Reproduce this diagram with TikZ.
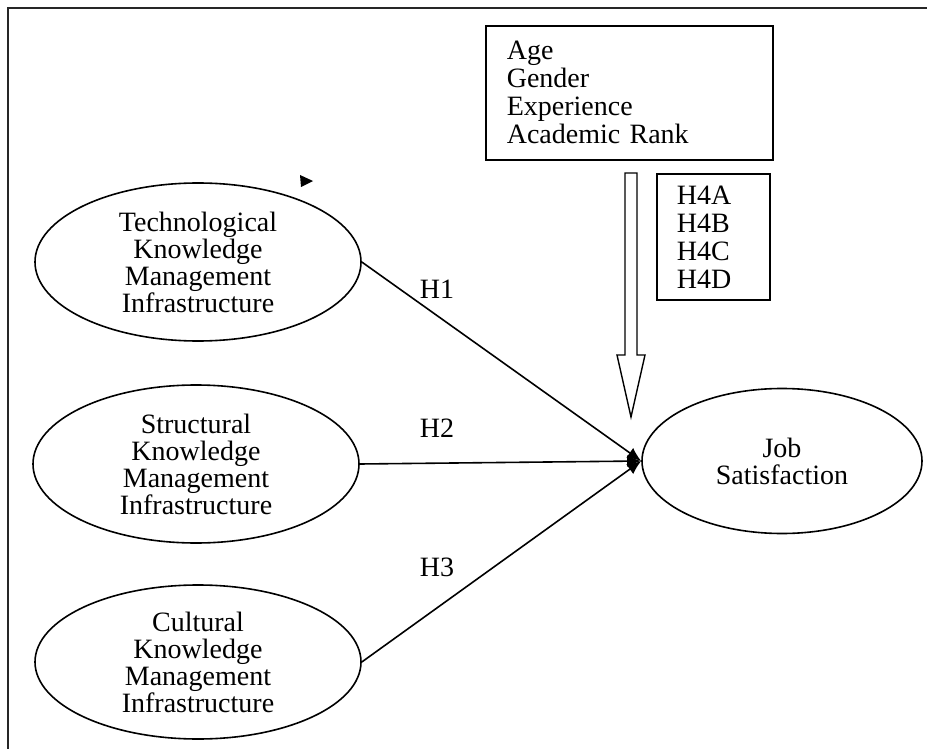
\documentclass[tikz,border=0pt]{standalone}
\usepackage{fontspec}
\setmainfont{Liberation Serif}
\usetikzlibrary{arrows.meta,shapes.geometric}

\begin{document}
\begin{tikzpicture}[x=1pt, y=-1pt, line width=1.6pt,
        construct/.style={draw, ellipse, inner sep=0pt, align=center,
            minimum width=326pt, minimum height=158pt, font=\fontsize{28}{27}\selectfont},
        listbox/.style={draw, anchor=north west, inner ysep=0pt, align=left,
            font=\fontsize{28}{28}\selectfont},
        hyp/.style={font=\fontsize{28}{27}\selectfont},
        conn/.style={-{Latex[length=14pt,width=12pt]}}]
        \useasboundingbox (0,0) rectangle (927,749);

        % frame
        \draw[line width=1.8pt, black!85] (8,749)--(8,8)--(927,8);

        % constructs
        \node[construct] (tech) at (198,262) {Technological\\Knowledge\\Management\\Infrastructure};
        \node[construct] (struc) at (196,464) {Structural\\Knowledge\\Management\\Infrastructure};
        \node[construct, minimum height=154pt] (cult) at (198,662) {Cultural\\Knowledge\\Management\\Infrastructure};
        \node[construct, minimum width=280pt, minimum height=145pt] (job) at (782,461) {Job\\Satisfaction};

        % moderators
        \node[listbox, minimum width=287pt, minimum height=134pt, inner xsep=21pt, text width=245pt]
            (ctrl) at (485,25) {Age\\Gender\\Experience\\Academic Rank};
        \node[listbox, minimum width=113pt, minimum height=126pt, inner xsep=20pt, text width=73pt]
            (hfour) at (656,173) {H4A\\H4B\\H4C\\H4D};

        % hollow arrow
        \draw[line width=1.4pt] (625,173)--(625,355)--(617,355)--(631,417)--(645,355)--(637,355)--(637,173)--cycle;

        % paths
        \draw[conn] (tech.east)--(job.west);
        \draw[conn] (struc.east)--(job.west);
        \draw[conn] (cult.east)--(job.west);
        \node[hyp] (hone) at (437,289) {H1};
        \node[hyp] (htwo) at (437,428) {H2};
        \node[hyp] (hthree) at (437,567) {H3};

        \fill (300,175)--(313,181)--(301,187)--cycle;
    \end{tikzpicture}
\end{document}
